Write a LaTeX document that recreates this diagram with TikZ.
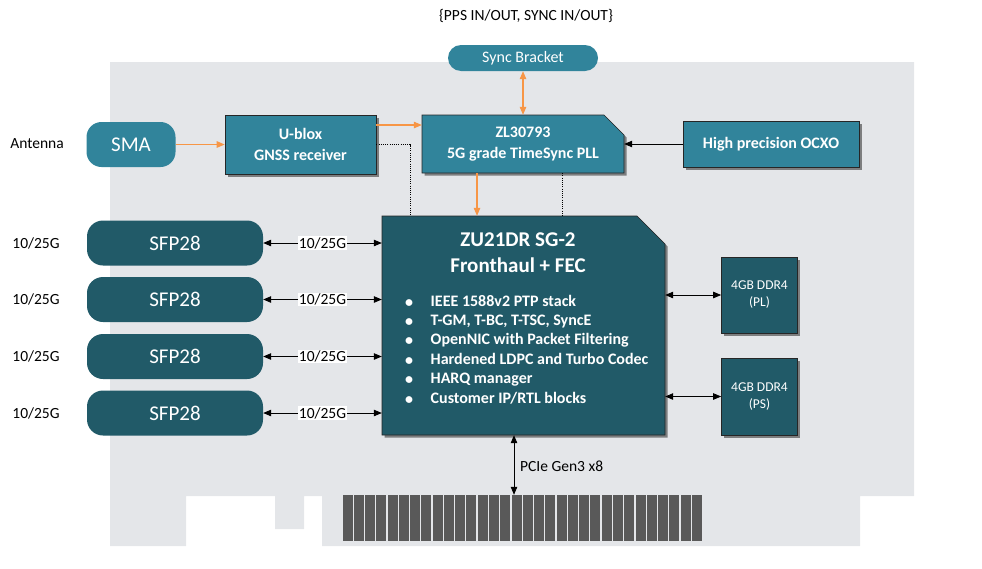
\documentclass[tikz,border=0pt]{standalone}
\usepackage{fontspec}
\setmainfont{Carlito}
\usetikzlibrary{arrows.meta,shadows}
\definecolor{tealA}{HTML}{31849B}
\definecolor{tealB}{HTML}{215A68}
\definecolor{cardgray}{RGB}{228,230,233}
\definecolor{orangeA}{HTML}{F79646}
\definecolor{fingerc}{HTML}{595959}
\begin{document}
\begin{tikzpicture}[x=1pt,y=-1pt,
  shad/.style={drop shadow={shadow xshift=2.5pt,shadow yshift=-2.5pt,opacity=0.45,fill=black}},
  midbox/.style={fill=tealA,draw=black!85,line width=0.7pt,text=white,font=\bfseries\fontsize{16}{20.5}\selectfont,align=center,inner sep=0pt,shad},
  darkbox/.style={fill=tealB,draw=black!85,line width=0.7pt,text=white,inner sep=0pt,align=center,font=\fontsize{13.5}{17}\selectfont,shad},
  pillA/.style={fill=tealA,text=white,inner sep=0pt},
  pillB/.style={fill=tealB,text=white,inner sep=0pt,rounded corners=16pt,minimum width=176pt,minimum height=45pt,font=\fontsize{21}{24}\selectfont},
  lbl/.style={font=\fontsize{15.5}{18}\selectfont,inner sep=0pt},
  oarrow/.style={draw=orangeA,line width=1.1pt,-{Triangle[length=8pt,width=6.5pt]}},
  obarrow/.style={draw=orangeA,line width=1.1pt,{Triangle[length=8pt,width=6.5pt]}-{Triangle[length=8pt,width=6.5pt]}},
  barrow/.style={draw=black,line width=0.8pt,{Triangle[length=8pt,width=6.5pt]}-{Triangle[length=8pt,width=6.5pt]}},
  sarrow/.style={draw=black,line width=0.8pt,-{Triangle[length=8pt,width=6.5pt]}},
  dotln/.style={draw=black,line width=0.7pt,dash pattern=on 1pt off 1.2pt},
  bul/.style={font=\bfseries\fontsize{16}{19}\selectfont,text=white,inner sep=0pt,anchor=mid west}
]
\useasboundingbox (0,0) rectangle (982,568);
% card outline
\fill[cardgray] (110,62) -- (914,62) -- (914,496) -- (860,496) -- (860,546) -- (322,546) -- (322,496)
  -- (304,496) -- (304,529) -- (275,529) -- (275,496) -- (186,496) -- (186,546) -- (110,546) -- cycle;
% edge fingers
\foreach \i in {0,...,31} \fill[fingerc] ({342.5+\i*11.27},495) rectangle ++(10,46);
\node[minimum width=361pt,minimum height=46pt,inner sep=0pt] (conn) at (523,518) {};

% header
\node[lbl] (hdr) at (526,16) {\{PPS IN/OUT, SYNC IN/OUT\}};
\node[pillA,rounded corners=13pt,minimum width=150pt,minimum height=26pt,font=\fontsize{16}{19}\selectfont] (sync) at (523,58) {Sync Bracket};

% antenna / SMA
\node[lbl] (ant) at (37,144) {Antenna};
\node[pillA,rounded corners=15pt,minimum width=89pt,minimum height=45pt,font=\fontsize{21}{24}\selectfont] (sma) at (131,144.5) {SMA};

\node[midbox,minimum width=151pt,minimum height=59pt] (ublox) at (300.5,144.5) {U-blox\\GNSS receiver};

% ZL30793 chamfered box
\path[fill=tealA,draw=black!85,line width=0.7pt,shad] (422,115) -- (604,115) -- (624,135) -- (624,173) -- (422,173) -- cycle;
\node[minimum width=202pt,minimum height=58pt,inner sep=0pt,text=white,align=center,font=\bfseries\fontsize{16}{21}\selectfont] (zl) at (523,144) {ZL30793\\5G grade TimeSync PLL};

\node[midbox,minimum width=176pt,minimum height=46pt] (ocxo) at (771,144) {High precision OCXO};

% ZU21DR chamfered box
\path[fill=tealB,draw=black!85,line width=0.7pt,shad] (382,216) -- (637,216) -- (665,244) -- (665,435) -- (382,435) -- cycle;
\node[minimum width=283pt,minimum height=219pt,inner sep=0pt] (zu) at (523.5,325.5) {};
\node[text=white,align=center,inner sep=0pt,font=\bfseries\fontsize{21}{26}\selectfont] (zut) at (518,253) {ZU21DR SG-2\\Fronthaul + FEC};
\foreach \y/\n in {304/1,323/2,342/3,362/4,381/5,401/6}
  \node[bul,anchor=center] (d\n) at (409,\y) {•};
\node[bul] (b1) at (430.5,304) {IEEE 1588v2 PTP stack};
\node[bul] (b2) at (430.5,323) {T-GM, T-BC, T-TSC, SyncE};
\node[bul] (b3) at (430.5,342) {OpenNIC with Packet Filtering};
\node[bul] (b4) at (430.5,362) {Hardened LDPC and Turbo Codec};
\node[bul] (b5) at (430.5,381) {HARQ manager};
\node[bul] (b6) at (430.5,401) {Customer IP/RTL blocks};

% SFP28
\node[pillB] (s1) at (175,243) {SFP28};
\node[pillB] (s2) at (175,299.5) {SFP28};
\node[pillB] (s3) at (175,356.5) {SFP28};
\node[pillB] (s4) at (175,413) {SFP28};
\node[lbl] (l1) at (36,243) {10/25G};
\node[lbl] (l2) at (36,299.5) {10/25G};
\node[lbl] (l3) at (36,356.5) {10/25G};
\node[lbl] (l4) at (36,413) {10/25G};
\foreach \s in {1,2,3,4}
  \draw[barrow] (s\s.east) -- (zu.west |- s\s.east) node[midway,lbl,fill=white,inner sep=1pt] (m\s) {10/25G};

% DDR
\node[darkbox,minimum width=76pt,minimum height=76pt] (ddr1) at (759.5,295) {4GB DDR4\\(PL)};
\node[darkbox,minimum width=76pt,minimum height=77pt] (ddr2) at (759.5,396.5) {4GB DDR4\\(PS)};
\draw[barrow] (zu.east |- ddr1.west) -- (ddr1.west);
\draw[barrow] (zu.east |- ddr2.west) -- (ddr2.west);

% connectors top
\coordinate (oy) at (0,125);
\coordinate (ox) at (477,0);
\coordinate (dA) at (410,0);
\coordinate (dB) at (562,0);
\coordinate (pc) at (514,0);
\draw[oarrow] (sma.east) -- (ublox.west);
\draw[oarrow] (ublox.east |- oy) -- (zl.west |- oy);
\draw[obarrow] (sync.south) -- (zl.north -| sync.south);
\draw[oarrow] (zl.south -| ox) -- (zu.north -| ox);
\draw[sarrow] (ocxo.west) -- (zl.east |- ocxo.west);
\draw[dotln] (ublox.east) -| (dA |- zu.north);
\draw[dotln] (zl.south -| dB) -- (zu.north -| dB);

% PCIe
\draw[barrow] (zu.south -| pc) -- (conn.north -| pc);
\node[lbl,anchor=west] (pcie) at (520,466) {PCIe Gen3 x8};
\end{tikzpicture}
\end{document}
